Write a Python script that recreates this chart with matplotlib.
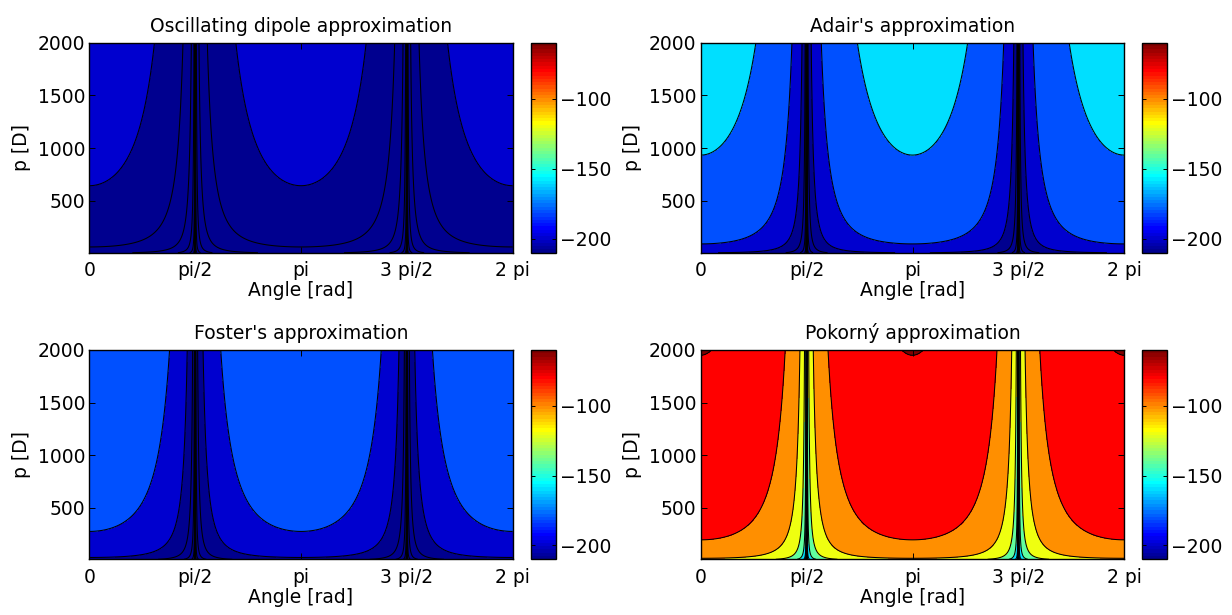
import numpy as np
import matplotlib
matplotlib.use('Agg')
import matplotlib.pyplot as plt
from matplotlib.colors import ListedColormap, Normalize
from matplotlib.cm import ScalarMappable

plt.rcParams['font.family'] = ['DejaVu Sans']
FS = 13.5

# ---- data ----
titles = ["Oscillating dipole approximation", "Adair's approximation",
          "Foster's approximation", "Pokorný approximation"]
ref_level = [-200, -160, -180, -80]   # a contour level crossing angle 0
ref_p = [645, 935, 275, 195]          # p [D] where that level crosses angle 0
db_per_decade = 20                    # level change per decade of p*cos^2
contour_levels = list(range(-400, -39, 20))
clim = (-210, -60)
xtick_values = [0, np.pi / 2, np.pi, 3 * np.pi / 2, 2 * np.pi]
xtick_labels = ['0', 'pi/2', 'pi', '3 pi/2', '2 pi']
ytick_values = [500, 1000, 1500, 2000]
cbar_ticks = [-200, -150, -100]
p_range = (10, 2000)


def matlab_jet(m=64):
    n = int(np.ceil(m / 4))
    u = np.concatenate([np.arange(1, n + 1) / n, np.ones(n - 1), np.arange(n, 0, -1) / n])
    g = int(np.ceil(n / 2)) - (1 if m % 4 == 1 else 0) + np.arange(1, len(u) + 1)
    r = g + n
    b = g - n
    J = np.zeros((m, 3))
    mr = r <= m
    J[r[mr] - 1, 0] = u[mr]
    J[g - 1, 1] = u
    mb = b >= 1
    J[b[mb] - 1, 2] = u[mb]
    return J


jet64 = matlab_jet(64)
cmap = ListedColormap(jet64)


def level_color(v):
    idx = int(np.floor((v - clim[0]) / (clim[1] - clim[0]) * 64))
    idx = min(max(idx, 0), 63)
    return jet64[idx]


theta = np.linspace(0, 2 * np.pi, 2001)
p = np.linspace(p_range[0], p_range[1], 500)
TH, P = np.meshgrid(theta, p)

fill_levels = [-3000] + contour_levels + [0]
fill_colors = [level_color(v) for v in fill_levels[:-1]]

W, H = 1232, 615
fig = plt.figure(figsize=(W / 100, H / 100), dpi=100)

ax_boxes = [(89.3, 42.7, 512.7, 252.7), (700.7, 42.7, 1124.3, 252.7),
            (89.3, 350.0, 512.7, 559.3), (700.7, 350.0, 1124.3, 559.3)]
cb_boxes = [(531.0, 555.7), (1142.3, 1167.3)]

for i in range(4):
    x0, y0, x1, y1 = ax_boxes[i]
    ax = fig.add_axes([x0 / W, 1 - y1 / H, (x1 - x0) / W, (y1 - y0) / H])
    c2 = np.maximum(np.cos(TH) ** 2, 1e-300)
    F = ref_level[i] + db_per_decade * np.log10(P * c2 / ref_p[i])
    F = np.maximum(F, -2900)
    ax.contourf(TH, P, F, levels=fill_levels, colors=fill_colors, antialiased=False)
    ax.contour(TH, P, F, levels=contour_levels, colors='k', linewidths=0.75,
               linestyles='solid')
    ax.set_xlim(0, 2 * np.pi)
    ax.set_ylim(p_range[0], p_range[1])
    ax.set_xticks(xtick_values)
    ax.set_xticklabels(xtick_labels)
    ax.set_yticks(ytick_values)
    ax.tick_params(direction='in', top=True, right=True, length=4, width=0.7,
                   labelsize=FS)
    ax.tick_params(axis='x', pad=6)
    ax.tick_params(axis='y', pad=3)
    for s in ax.spines.values():
        s.set_linewidth(1.0)
    ax.set_title(titles[i], fontsize=FS, pad=8)
    ax.set_xlabel('Angle [rad]', fontsize=FS)
    ax.set_ylabel('p [D]', fontsize=FS)
    h = y1 - y0
    ax.xaxis.set_label_coords(0.5, -(281.0 - 252.7) / h)
    ax.yaxis.set_label_coords((31.0 - 89.3) / (x1 - x0), 0.5)

    cx0, cx1 = cb_boxes[i % 2]
    cax = fig.add_axes([cx0 / W, 1 - y1 / H, (cx1 - cx0) / W, (y1 - y0) / H])
    sm = ScalarMappable(norm=Normalize(*clim), cmap=cmap)
    cb = fig.colorbar(sm, cax=cax, ticks=cbar_ticks)
    cb.outline.set_linewidth(1.0)
    cax.tick_params(direction='in', left=True, right=True, length=3, width=0.7,
                    labelsize=FS, pad=3)

fig.savefig('out.png', dpi=100)
